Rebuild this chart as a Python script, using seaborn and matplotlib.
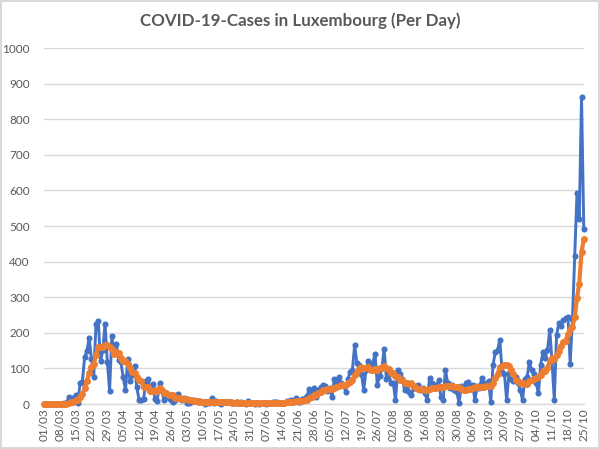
import numpy as np
import pandas as pd
import seaborn as sns
import matplotlib
matplotlib.use('Agg')
import matplotlib.pyplot as plt

# daily new cases, 01/03 .. 25/10
daily_cases = [
    0, 0, 0, 0, 1, 0, 1,
    1, 0, 2, 2, 19, 8, 17,
    26, 4, 59, 63, 132, 149, 186,
    128, 77, 224, 234, 120, 152, 226,
    119, 38, 190, 141, 168, 125, 117,
    75, 39, 127, 64, 81, 108, 47,
    11, 11, 15, 66, 71, 36, 57,
    13, 8, 60, 36, 11, 30, 16,
    12, 6, 12, 28, 15, 11, 16,
    3, 3, 7, 11, 9, 5, 8,
    6, 1, 5, 3, 16, 4, 9,
    3, 0, 5, 6, 7, 5, 5,
    3, 2, 3, 6, 4, 1, 8,
    2, 2, 1, 2, 0, 3, 4,
    1, 2, 4, 7, 5, 6, 4,
    2, 3, 8, 10, 12, 5, 16,
    7, 5, 14, 17, 22, 43, 27,
    44, 20, 40, 47, 53, 50, 38,
    45, 21, 70, 58, 75, 60, 55,
    35, 70, 90, 95, 166, 115, 110,
    85, 39, 95, 120, 100, 115, 142,
    53, 80, 100, 156, 70, 87, 60,
    60, 11, 96, 85, 70, 40, 60,
    35, 25, 45, 45, 55, 40, 45,
    30, 11, 72, 60, 55, 50, 67,
    20, 11, 96, 60, 45, 55, 40,
    35, 3, 50, 45, 58, 63, 50,
    55, 11, 50, 45, 72, 55, 60,
    65, 7, 110, 147, 152, 180, 90,
    85, 11, 86, 70, 65, 75, 60,
    40, 11, 70, 75, 119, 95, 85,
    60, 30, 110, 147, 130, 152, 209,
    120, 11, 194, 227, 220, 235, 241,
    245, 114, 240, 415, 594, 520, 862,
    491,
]

# 7-day average (orange line)
weekly_avg = [
    0, 0, 0, 0, 0.1, 0.1, 0.3,
    0.4, 0.4, 0.7, 1.0, 3.6, 4.7, 7.0,
    10.6, 11.1, 19.3, 28.0, 44.1, 64.3, 88.4,
    103.0, 113.4, 137.0, 161.4, 159.7, 160.1, 165.9,
    164.6, 159.0, 154.1, 140.9, 147.7, 143.9, 128.3,
    122.0, 122.1, 113.1, 102.1, 89.7, 87.3, 77.3,
    68.1, 64.1, 48.1, 48.4, 47.0, 36.7, 38.1,
    38.4, 38.0, 44.4, 40.1, 31.6, 30.7, 24.9,
    24.7, 24.4, 17.6, 16.4, 17.0, 14.3, 14.3,
    13.0, 12.6, 11.9, 9.4, 8.6, 7.7, 6.6,
    7.0, 6.7, 6.4, 5.3, 6.3, 6.1, 6.3,
    5.9, 5.7, 5.7, 6.1, 4.9, 5.0, 4.4,
    4.4, 4.7, 4.4, 4.4, 4.0, 3.4, 3.9,
    3.7, 3.7, 3.4, 2.9, 2.3, 2.6, 2.0,
    1.9, 1.9, 2.3, 3.0, 3.7, 4.1, 4.1,
    4.3, 4.4, 5.0, 5.4, 6.4, 6.3, 8.0,
    8.7, 9.0, 9.9, 10.9, 12.3, 17.7, 19.3,
    24.6, 26.7, 30.4, 34.7, 39.1, 40.1, 41.7,
    41.9, 42.0, 46.3, 47.9, 51.0, 52.4, 54.9,
    53.4, 60.4, 63.3, 68.6, 81.6, 89.4, 97.3,
    104.4, 100.0, 100.7, 104.3, 94.9, 94.9, 99.4,
    94.9, 100.7, 101.4, 106.6, 102.3, 98.3, 86.6,
    87.6, 77.7, 77.1, 67.0, 67.0, 60.3, 60.3,
    56.7, 58.7, 51.4, 45.7, 43.6, 43.6, 41.4,
    40.7, 38.7, 42.6, 44.7, 44.7, 46.1, 49.3,
    47.9, 47.9, 51.3, 51.3, 49.9, 50.6, 46.7,
    48.9, 47.7, 41.1, 39.0, 40.9, 42.0, 43.4,
    46.3, 47.4, 47.4, 47.4, 49.4, 48.3, 49.7,
    51.1, 50.6, 59.1, 73.7, 85.1, 103.0, 107.3,
    110.1, 110.7, 107.3, 96.3, 83.9, 68.9, 64.6,
    58.1, 58.1, 55.9, 56.6, 64.3, 67.1, 70.7,
    73.6, 76.3, 82.0, 92.3, 93.9, 102.0, 119.7,
    128.3, 125.6, 137.6, 149.0, 161.9, 173.7, 178.3,
    196.1, 210.9, 217.4, 244.3, 297.7, 338.4, 427.1,
    462.3,
]

dates = pd.date_range('2020-03-01', periods=len(daily_cases), freq='D')
y_ticks = list(range(0, 1001, 100))

df = pd.DataFrame({'day': np.arange(len(dates)), 'cases': daily_cases, 'avg': weekly_avg})

sns.set_style('white')
plt.rcParams['font.family'] = ['Lato', 'DejaVu Sans']

fig = plt.figure(figsize=(6, 4.49), dpi=100)
ax = fig.add_axes([0.073, 0.100, 0.900, 0.793])

blue = '#4472C4'
orange = '#ED7D31'
sns.lineplot(data=df, x='day', y='cases', ax=ax, color=blue, linewidth=2.1,
             marker='o', markersize=4.4, markeredgewidth=0, clip_on=False, zorder=3)
sns.lineplot(data=df, x='day', y='avg', ax=ax, color=orange, linewidth=3.0,
             marker='o', markersize=5.0, markeredgewidth=0, clip_on=False, zorder=4)

ax.set_xlim(0, len(dates) - 1)
ax.set_ylim(0, 1000)
ax.set_yticks(y_ticks)
ax.set_yticklabels([str(v) for v in y_ticks])
tick_pos = list(range(0, len(dates), 7))
ax.set_xticks(tick_pos)
ax.set_xticklabels([dates[i].strftime('%d/%m') for i in tick_pos], rotation=90)

ax.grid(axis='y', color='#D9D9D9', linewidth=1.0)
ax.set_axisbelow(True)
for side in ['top', 'right', 'left']:
    ax.spines[side].set_visible(False)
ax.spines['bottom'].set_color('#D9D9D9')
ax.spines['bottom'].set_linewidth(1.0)
ax.tick_params(axis='both', length=0, labelsize=8.5, colors='#595959')
ax.tick_params(axis='x', pad=3)
ax.tick_params(axis='y', pad=10)
ax.set_xlabel('')
ax.set_ylabel('')

fig.suptitle('COVID-19-Cases in Luxembourg (Per Day)', x=0.5, y=0.972,
             fontsize=12.2, fontweight='bold', color='#595959')

fig.patch.set_edgecolor('#D9D9D9')
fig.patch.set_linewidth(1.5)

fig.savefig('out.png', dpi=100, edgecolor=fig.get_edgecolor())
